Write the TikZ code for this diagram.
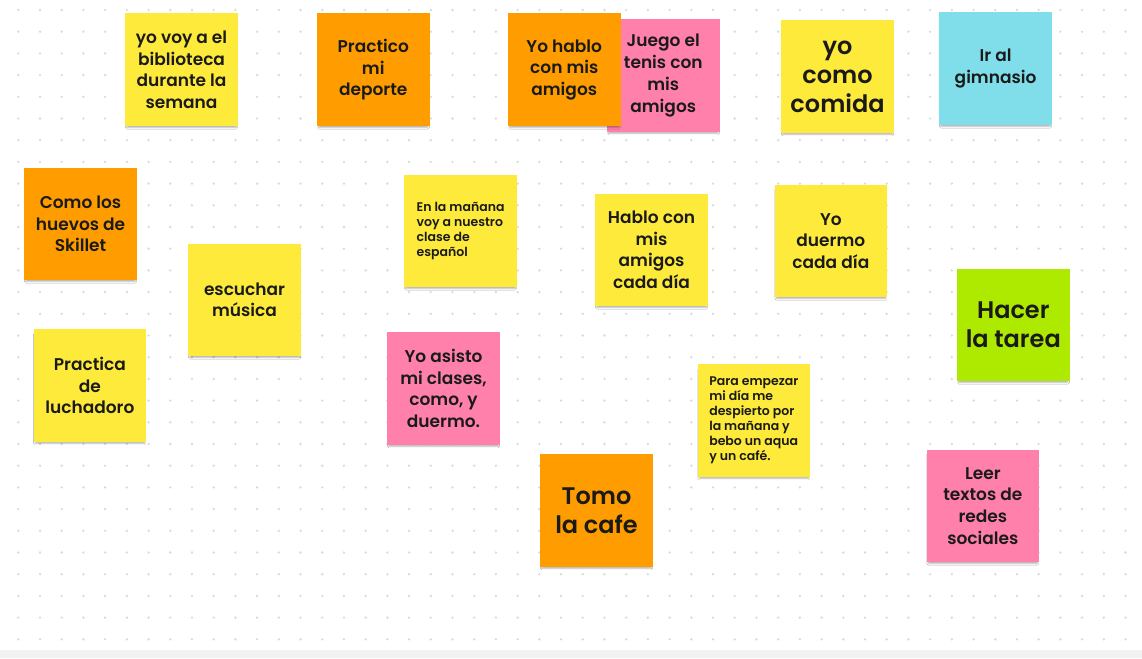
\documentclass[tikz,border=0pt]{standalone}
\usepackage{fontspec}
\IfFontExistsTF{Poppins SemiBold}{\newfontfamily\notefont{Poppins SemiBold}}{\newfontfamily\notefontA{Poppins}\def\notefont{\notefontA\bfseries}}
\usetikzlibrary{shadows.blur}
\definecolor{ny}{HTML}{FEEA3B}
\definecolor{no}{HTML}{FF9D00}
\definecolor{np}{HTML}{FF80AB}
\definecolor{nc}{HTML}{80DEEA}
\definecolor{ng}{HTML}{ADEA00}
\definecolor{dotc}{HTML}{DADADA}
\definecolor{barc}{HTML}{F1F2F4}
\definecolor{txt}{HTML}{1A1A1A}
\tikzset{
 note/.style={anchor=north west, minimum width=112.7pt, minimum height=112.7pt, inner sep=0pt,
   align=center, text=txt, font=\notefont\fontsize{17}{21.7}\selectfont,
   blur shadow={shadow xshift=0pt, shadow yshift=-3.2pt, shadow scale=0.97, shadow blur radius=1.5pt, shadow opacity=30}},
 big/.style={font=\notefont\fontsize{24}{29}\selectfont},
 small/.style={align=left, font=\notefont\fontsize{12.5}{15}\selectfont}
}
\begin{document}
\begin{tikzpicture}[x=1pt,y=-1pt]
\useasboundingbox (0,0) rectangle (1142,658);
\fill[white] (0,0) rectangle (1142,658);
\foreach \i in {0,...,51}{\foreach \j in {0,...,29}{\fill[dotc] ({18.3+21.71*\i},{10+21.7*\j}) circle (1.3);}}
\fill[barc] (0,650) rectangle (1142,658);
\node[note, fill=ny] (n1) at (125,13.3) {yo voy a el\\biblioteca\\durante la\\semana};
\node[note, fill=no] (n2) at (316.7,13.3) {Practico\\mi\\deporte};
\node[note, fill=np] (n4) at (606.7,19) {Juego el\\tenis con\\mis\\amigos};
\node[note, fill=no] (n3) at (507.7,13.3) {Yo hablo\\con mis\\amigos};
\node[note, fill=ny, big] (n5) at (781,20) {yo\\como\\comida};
\node[note, fill=nc] (n6) at (939,12.3) {Ir al\\gimnasio};
\node[note, fill=no] (n7) at (24,167.3) {Como los\\huevos de\\Skillet};
\node[note, fill=ny, small] (n8) at (404,174.3) {En la mañana\\voy a nuestro\\clase de\\español};
\node[note, fill=ny] (n9) at (595,193.3) {Hablo con\\mis\\amigos\\cada día};
\node[note, fill=ny] (n10) at (774.3,184.3) {Yo\\duermo\\cada día};
\node[note, fill=ny] (n11) at (188,243.3) {escuchar\\música};
\node[note, fill=ng, big] (n12) at (956.7,268.3) {Hacer\\la tarea};
\node[note, fill=ny] (n13) at (33.3,329) {Practica\\de\\luchadoro};
\node[note, fill=np] (n14) at (387,332) {Yo asisto\\mi clases,\\como, y\\duermo.};
\node[note, fill=ny, small] (n15) at (697.3,364) {Para empezar\\mi día me\\despierto por\\la mañana y\\bebo un aqua\\y un café.};
\node[note, fill=no, big] (n16) at (540,454) {Tomo\\la cafe};
\node[note, fill=np] (n17) at (926.3,449.3) {Leer\\textos de\\redes\\sociales};
\end{tikzpicture}
\end{document}
